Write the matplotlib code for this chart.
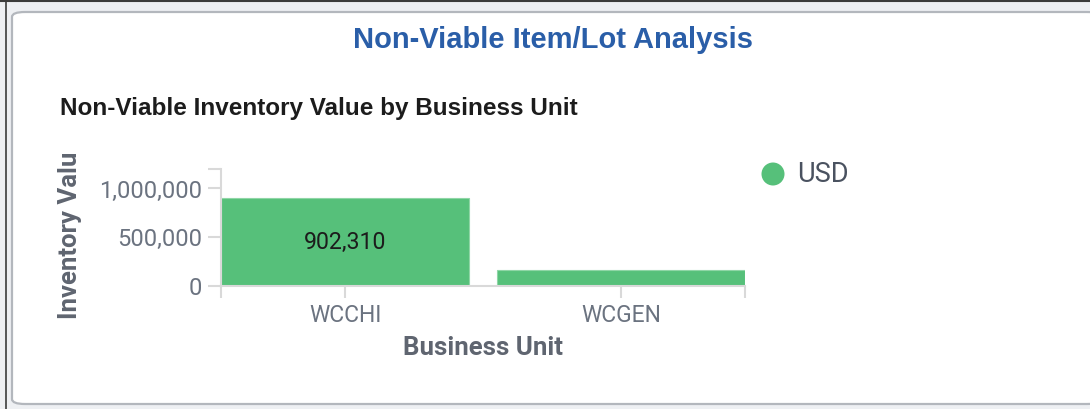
import matplotlib
matplotlib.use("Agg")
import matplotlib.pyplot as plt
from matplotlib.patches import FancyBboxPatch, Circle
from matplotlib.lines import Line2D
from matplotlib.ticker import FuncFormatter

# Data
business_units = ["WCCHI", "WCGEN"]
inventory_value = [902310, 165000]
currency = "USD"
y_ticks = [0, 500000, 1000000, 1200000]

BAR_COLOR = "#56c07a"
AXIS_GREY = "#d9d9d9"
TEXT_GREY = "#6b7380"
LABEL_GREY = "#5f6570"

W, H = 1090, 409
fig = plt.figure(figsize=(W / 100, H / 100), dpi=100)
fig.patch.set_facecolor("#eef0f3")

def fx(px):
    return px / W

def fy(py):
    return 1 - py / H

# Card background with rounded corners
card = FancyBboxPatch((fx(12), fy(404)), fx(1100) - fx(12), fy(12) - fy(404),
                      boxstyle="round,pad=0,rounding_size=0.012",
                      transform=fig.transFigure, facecolor="white",
                      edgecolor="#b3b7bd", linewidth=1.6, zorder=0)
fig.patches.append(card)
# Window edges
fig.add_artist(Line2D([0, 1], [fy(1), fy(1)], transform=fig.transFigure,
                      color="#3c3c3c", linewidth=1.5))
fig.add_artist(Line2D([fx(6), fx(6)], [fy(1), 0], transform=fig.transFigure,
                      color="#3c3c3c", linewidth=1.2))

font = ["Roboto", "DejaVu Sans"]

fig.text(fx(553), fy(40), "Non-Viable Item/Lot Analysis", ha="center", va="center",
         fontsize=21, fontweight="bold", color="#2a5ea8", family=["Liberation Sans"])
fig.text(fx(60), fy(108), "Non-Viable Inventory Value by Business Unit", ha="left",
         va="center", fontsize=17.5, fontweight="bold", color="#1c1c1c",
         family=["Liberation Sans"])

ax = fig.add_axes([fx(221), fy(286), fx(745) - fx(221), fy(169) - fy(286)])
ax.set_zorder(3)
ax.set_facecolor("none")
x = list(range(len(business_units)))
bars = ax.bar(x, inventory_value, width=0.9, color=BAR_COLOR,
              edgecolor="#8fd6a6", linewidth=0.8, zorder=2)

ax.set_xlim(-0.45, len(business_units) - 0.55)
ax.set_ylim(0, 1200000)

for spine in ["top", "right"]:
    ax.spines[spine].set_visible(False)
for spine in ["left", "bottom"]:
    ax.spines[spine].set_color(AXIS_GREY)
    ax.spines[spine].set_linewidth(1.5)

ax.set_yticks(y_ticks)
ax.yaxis.set_major_formatter(FuncFormatter(
    lambda v, p: "" if v == 1200000 else f"{int(v):,}"))
ax.tick_params(axis="y", length=9.4, width=1.5, color=AXIS_GREY, pad=4,
               labelsize=17, labelcolor=TEXT_GREY)

ax.set_xticks([-0.45] + x + [len(business_units) - 0.55])
ax.set_xticklabels([""] + business_units + [""], family=font)
ax.tick_params(axis="x", length=8.6, width=1.5, color=AXIS_GREY, pad=4,
               labelsize=16.5, labelcolor=TEXT_GREY)
for lbl in ax.get_yticklabels():
    lbl.set_family(font)

# Value label on the tall bar
ax.text(x[0], inventory_value[0] / 2, f"{inventory_value[0]:,}", ha="center",
        va="center", fontsize=16.7, color="#1c1c1c", family=font, zorder=3)

fig.text(fx(483), fy(348), "Business Unit", ha="center", va="center",
         fontsize=18.5, fontweight="bold", color=LABEL_GREY, family=font)
fig.text(fx(70), fy(235), "Inventory Valu", ha="center", va="center", rotation=90,
         fontsize=18.5, fontweight="bold", color=LABEL_GREY, family=font)

# Legend marker, sized in pixels so it stays round
legend_dot = Circle((773 / 100, (H - 174) / 100), radius=11.5 / 100,
                    transform=fig.dpi_scale_trans, facecolor=BAR_COLOR,
                    edgecolor="none")
fig.add_artist(legend_dot)
fig.text(fx(797), fy(174), currency, ha="left", va="center", fontsize=19.5,
         color="#4a5260", family=font)

fig.savefig("out.png", dpi=100, facecolor=fig.get_facecolor())
